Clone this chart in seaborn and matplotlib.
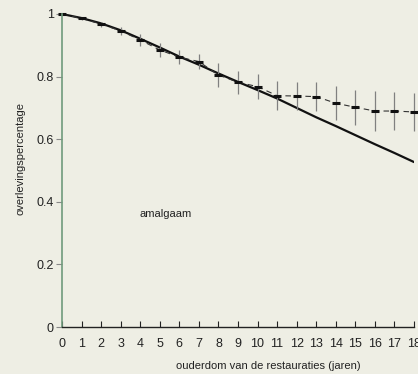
import matplotlib
matplotlib.use("Agg")
import matplotlib.pyplot as plt
import seaborn as sns
import numpy as np
import pandas as pd

# Data
years = list(range(0, 19))
observed = [1.0, 0.986, 0.968, 0.946, 0.917, 0.885, 0.862, 0.848, 0.805, 0.782,
            0.768, 0.739, 0.738, 0.736, 0.715, 0.702, 0.690, 0.690, 0.687]
obs_err = [0.0, 0.005, 0.008, 0.012, 0.020, 0.021, 0.022, 0.025, 0.038, 0.037,
           0.039, 0.046, 0.044, 0.046, 0.054, 0.056, 0.065, 0.061, 0.061]
model = [1.0, 0.987, 0.970, 0.948, 0.921, 0.893, 0.864, 0.838, 0.810, 0.783,
         0.757, 0.730, 0.700, 0.670, 0.642, 0.613, 0.584, 0.556, 0.527]
y_ticks = [0, 0.2, 0.4, 0.6, 0.8, 1]
y_ticklabels = ["0", "0.2", "0.4", "0.6", "0.8", "1"]
x_label = "ouderdom van de restauraties (jaren)"
y_label = "overlevingspercentage"
annotation = "amalgaam"

df = pd.DataFrame({"jaar": years, "obs": observed, "err": obs_err, "model": model})

sns.set_theme(style="white")
plt.rcParams['font.family'] = ['Liberation Sans', 'DejaVu Sans']

bg = "#eeeee4"
fig = plt.figure(figsize=(4.18, 3.74), dpi=100, facecolor=bg)
ax = fig.add_axes([62/418, 1 - 327/374, 352/418, 313/374])
ax.set_facecolor(bg)

sns.lineplot(data=df, x="jaar", y="model", ax=ax, color="#111111", lw=1.6)
sns.lineplot(data=df, x="jaar", y="obs", ax=ax, color="#333333", lw=0.8,
             linestyle=(0, (5, 4)))
eb = ax.errorbar(df["jaar"], df["obs"], yerr=df["err"], fmt="none",
                 ecolor="#808080", elinewidth=0.9, capsize=0)
for coll in eb.lines[2]:
    coll.set_clip_on(False)
ax.plot(df["jaar"], df["obs"], linestyle="none", marker="_", ms=6, mew=2.2,
        color="#111111", clip_on=False)

ax.set_xlim(0, 18)
ax.set_ylim(0, 1)
ax.set_xticks(years)
ax.set_xticklabels([str(y) for y in years])
ax.set_yticks(y_ticks)
ax.set_yticklabels(y_ticklabels)

for s in ["top", "right"]:
    ax.spines[s].set_visible(False)
ax.spines["left"].set_color("#6f9a7c")
ax.spines["left"].set_linewidth(1.2)
ax.spines["bottom"].set_color("#222222")
ax.spines["bottom"].set_linewidth(1.0)

ax.tick_params(axis="y", direction="out", length=4, width=0.8, color="#888888",
               labelsize=9, labelcolor="#222222", pad=2, left=True)
ax.tick_params(axis="x", direction="in", length=4, width=0.8, color="#222222",
               labelsize=9, labelcolor="#222222", pad=8, bottom=True)

ax.set_xlabel(x_label, fontsize=8, color="#222222")
ax.set_ylabel(y_label, fontsize=8, color="#222222")
ax.xaxis.set_label_coords(0.585, -0.11)
ax.yaxis.set_label_coords(-0.105, 0.537)

ax.text(3.95, 0.36, annotation, fontsize=8, color="#222222", va="center")

fig.savefig("out.png", dpi=100, facecolor=bg)
